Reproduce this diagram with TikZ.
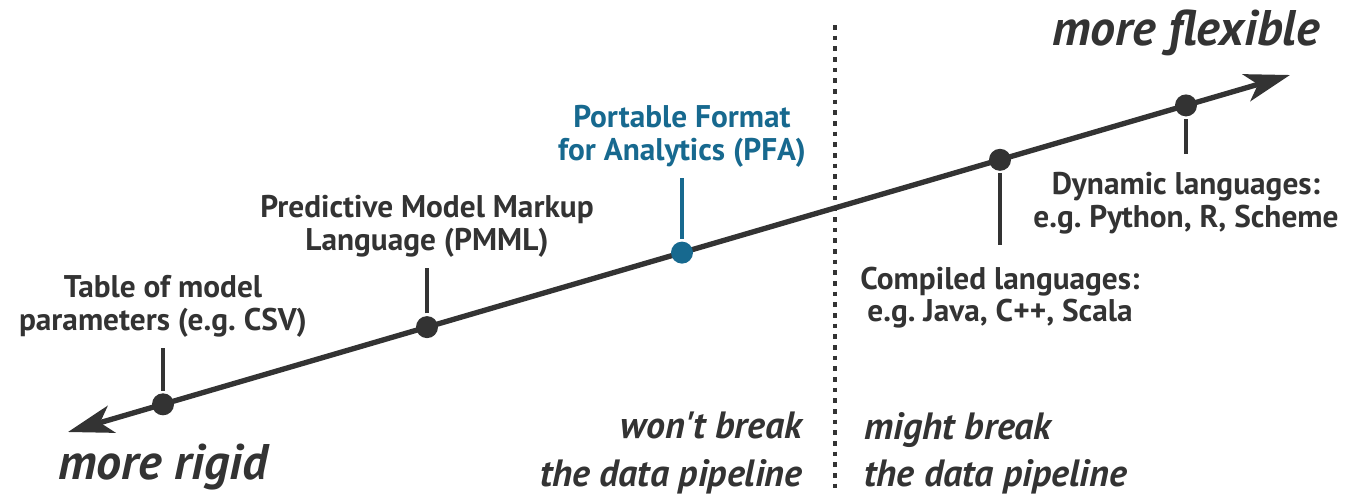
\documentclass[tikz,border=0pt]{standalone}
\usepackage{fontspec}
\setmainfont{PT Sans}
\frenchspacing
\usetikzlibrary{arrows.meta,positioning}
\definecolor{ink}{HTML}{333333}
\definecolor{pfablue}{HTML}{17698F}

\begin{document}
\begin{tikzpicture}[x=0.75pt,y=-0.75pt,
                    node distance=40pt,
                    line width=4pt,
                    draw=ink]
                \tikzstyle{dot}=[circle,
                                fill=ink,
                                inner sep=0pt,
                                minimum size=16.5pt]
                \tikzstyle{format}=[align=center,
                                inner sep=0pt,
                                text=ink,
                                font=\fontsize{23.5}{24.5}\selectfont\bfseries]
                \tikzstyle{stem}=[line width=2.3pt]
                \tikzstyle{far}=[inner sep=0pt, text=ink,
                                font=\fontsize{37.5}{40}\selectfont\bfseries\itshape]
                \tikzstyle{verdict}=[inner sep=0pt, text=ink,
                                font=\fontsize{28.5}{35.5}\selectfont\bfseries\itshape]

                \useasboundingbox (0,0) rectangle (1346,497);

                % the scale, from rigid to flexible
                \coordinate (rigid) at (68,432);
                \coordinate (flexible) at (1290,75);
                \draw[{Stealth[length=34pt,width=21pt,inset=9pt]}-{Stealth[length=34pt,width=21pt,inset=9pt]}]
                        (rigid) -- (flexible);

                \node[dot] (csv) at (163,404.3) {};
                \node[dot] (pmml) at (427,327.1) {};
                \node[dot, fill=pfablue] (pfa) at (682,252.6) {};
                \node[dot] (compiled) at (1000,159.8) {};
                \node[dot] (dynamic) at (1186,105.4) {};

                \node[format] (csvtext) [above=38pt of csv] {Table of model\\parameters (e.g. CSV)};
                \node[format] (pmmltext) [above=40pt of pmml] {Predictive Model Markup\\Language (PMML)};
                \node[format, text=pfablue] (pfatext) [above=52pt of pfa] {Portable Format\\for Analytics (PFA)};
                \node[format] (compiledtext) [below=68pt of compiled] {Compiled languages:\\e.g. Java, C++, Scala};
                \node[format] (dynamictext) [below=38pt of dynamic] {Dynamic languages:\\e.g. Python, R, Scheme};

                \draw[stem] (csv) -- ([yshift=-6pt]csvtext.south);
                \draw[stem] (pmml) -- ([yshift=-6pt]pmmltext.south);
                \draw[stem, draw=pfablue] (pfa) -- ([yshift=-6pt]pfatext.south);
                \draw[stem] (compiled) -- ([yshift=14pt]compiledtext.north);
                \draw[stem] (dynamic) -- ([yshift=12pt]dynamictext.north);

                \node[far] (rigidtext) at (163,467) {more rigid};
                \node[far] (flexibletext) at (1186,33) {more flexible};

                % the dividing line
                \coordinate (divtop) at (835,25);
                \coordinate (divbottom) at (835,492);
                \draw[line width=3.6pt, dash pattern=on 3.6pt off 4.4pt] (divtop) -- (divbottom);

                \node[verdict, anchor=east, align=right] (wont) at (805,453) {won\textquotesingle t break\\the data pipeline};
                \node[verdict, anchor=west, align=left] (might) at (862,453) {might break\\the data pipeline};
            \end{tikzpicture}
\end{document}
